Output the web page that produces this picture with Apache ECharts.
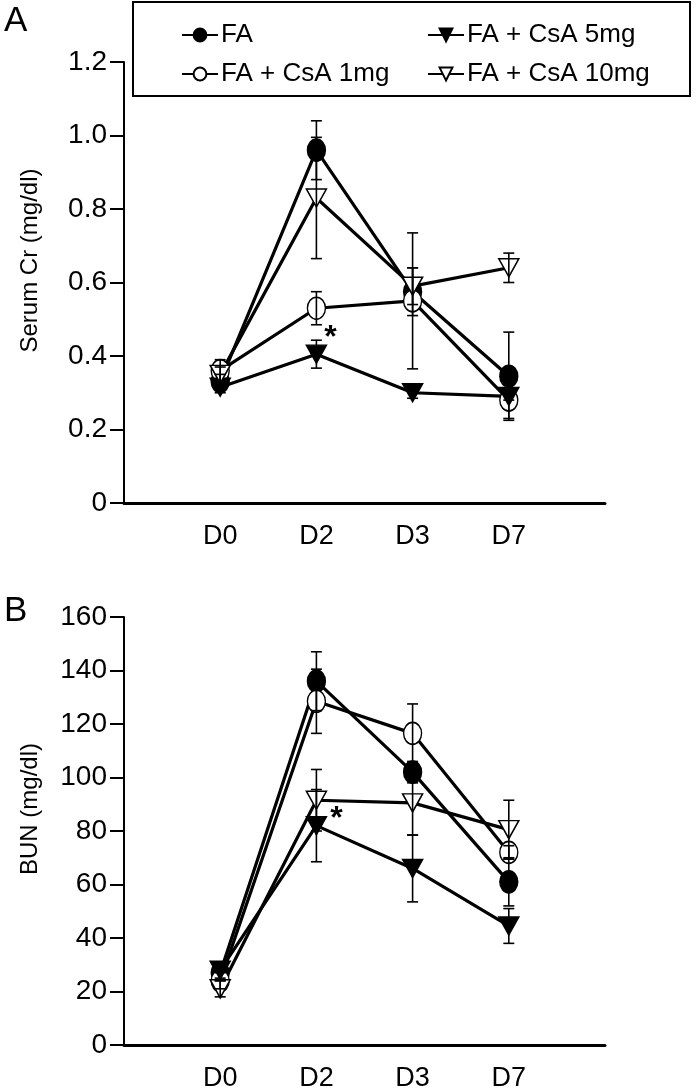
<!DOCTYPE html>
<html>
<head>
<meta charset="utf-8">
<script src="https://cdn.jsdelivr.net/npm/echarts@6/dist/echarts.min.js"></script>
<style>
html,body{margin:0;padding:0;background:#fff;}
#c{width:700px;height:1092px;}
</style>
</head>
<body>
<div id="c"></div>
<script>
// ---- data ----
const categories = ['', 'D0', 'D2', 'D3', 'D7', ''];
const seriesNames = ['FA', 'FA + CsA 1mg', 'FA + CsA 5mg', 'FA + CsA 10mg'];

// Panel A: Serum Cr (mg/dl)
const crFA = [0.33, 0.96, 0.575, 0.345];
const crFAErr = [0.02, 0.08, 0.065, 0.12];
const cr1 = [0.36, 0.53, 0.55, 0.28];
const cr1Err = [0.03, 0.045, 0.185, 0.05];
const cr5 = [0.315, 0.405, 0.30, 0.29];
const cr5Err = [0.015, 0.038, 0.015, 0.01];
const cr10 = [0.35, 0.83, 0.59, 0.64];
const cr10Err = [0.02, 0.165, 0.05, 0.04];
const crTickLabels = ['0', '0.2', '0.4', '0.6', '0.8', '1.0', '1.2'];

// Panel B: BUN (mg/dl)
const bunFA = [27, 136, 102, 61];
const bunFAErr = [3, 11, 4, 9];
const bun1 = [24, 128.5, 116.5, 72];
const bun1Err = [3, 12, 11, 2.5];
const bun5 = [28, 82, 66, 44.5];
const bun5Err = [3, 13.5, 12.5, 6.5];
const bun10 = [21, 91.5, 90.5, 80.5];
const bun10Err = [3, 11.5, 12, 11];
const bunTickLabels = ['0', '20', '40', '60', '80', '100', '120', '140', '160'];

// ---- build ----
const FONT = 'Liberation Sans, Arial, sans-serif';
const chart = echarts.init(document.getElementById('c'), null, {renderer: 'canvas'});

const styles = [
  {symbol: 'circle', size: [18, 22], rotate: 0, fill: '#000'},
  {symbol: 'circle', size: [18, 22], rotate: 0, fill: '#fff'},
  {symbol: 'triangle', size: [20, 18], rotate: 180, fill: '#000'},
  {symbol: 'triangle', size: [20, 18], rotate: 180, fill: '#fff'}
];

function pts(vals) { return vals.map((v, i) => [i + 1, v]); }
function errPts(vals, errs) { return vals.map((v, i) => [i + 1, v - errs[i], v + errs[i]]); }

function lineSeries(name, idx, vals, axis, star) {
  const st = styles[idx];
  const s = {
    name: name, type: 'line', xAxisIndex: axis, yAxisIndex: axis,
    data: pts(vals), symbol: st.symbol, symbolSize: st.size, symbolRotate: st.rotate,
    showAllSymbol: true, z: 3,
    lineStyle: {color: '#000', width: 3.2},
    itemStyle: {color: st.fill, borderColor: '#000', borderWidth: 1.5, opacity: 1},
    emphasis: {disabled: true}, animation: false
  };
  if (star) {
    s.markPoint = {
      symbol: 'circle', symbolSize: 1, itemStyle: {color: 'rgba(0,0,0,0)'},
      data: [{coord: [2, vals[1]], value: '*'}],
      label: {show: true, formatter: '*', color: '#000', fontSize: 32, fontWeight: 'bold', fontFamily: FONT, offset: star}
    };
  }
  return s;
}

function errSeries(vals, errs, axis) {
  return {
    type: 'custom', xAxisIndex: axis, yAxisIndex: axis, z: 4, animation: false,
    data: errPts(vals, errs),
    renderItem: function (params, api) {
      const x = api.value(0);
      const lo = api.coord([x, api.value(1)]);
      const hi = api.coord([x, api.value(2)]);
      const cw = 5.5;
      const ls = {stroke: '#000', lineWidth: 1.6};
      return {type: 'group', children: [
        {type: 'line', shape: {x1: lo[0], y1: lo[1], x2: hi[0], y2: hi[1]}, style: ls},
        {type: 'line', shape: {x1: lo[0] - cw, y1: lo[1], x2: lo[0] + cw, y2: lo[1]}, style: ls},
        {type: 'line', shape: {x1: hi[0] - cw, y1: hi[1], x2: hi[0] + cw, y2: hi[1]}, style: ls}
      ]};
    }
  };
}

function xAxis(gi) {
  return {
    type: 'category', gridIndex: gi, data: categories, boundaryGap: false,
    axisLine: {lineStyle: {color: '#000', width: 3}},
    axisTick: {show: false},
    axisLabel: {interval: 0, color: '#000', fontSize: 27, fontFamily: FONT, margin: 20},
    splitLine: {show: false}
  };
}
function yAxis(gi, max, interval, labels, name, nameGap) {
  return {
    type: 'value', gridIndex: gi, min: 0, max: max, interval: interval,
    name: name, nameLocation: 'middle', nameGap: nameGap, nameRotate: 90,
    nameTextStyle: {color: '#000', fontSize: 24, fontFamily: FONT, padding: [0, 0, 0, 44]},
    axisLine: {show: true, lineStyle: {color: '#000', width: 2}},
    axisTick: {show: true, inside: false, length: 14, lineStyle: {color: '#000', width: 2}},
    axisLabel: {color: '#000', fontSize: 28, fontFamily: FONT, margin: 17,
      formatter: v => labels[Math.round(v / interval)]},
    splitLine: {show: false}
  };
}

const legendPos = [
  {name: seriesNames[0], left: 181, top: 22},
  {name: seriesNames[2], left: 427, top: 22},
  {name: seriesNames[1], left: 181, top: 61},
  {name: seriesNames[3], left: 427, top: 61}
];

const option = {
  backgroundColor: '#fff',
  animation: false,
  grid: [
    {left: 124, top: 62, width: 481, height: 441},
    {left: 124, top: 617, width: 481, height: 438}
  ],
  xAxis: [xAxis(0), xAxis(1)],
  yAxis: [
    yAxis(0, 1.2, 0.2, crTickLabels, 'Serum Cr (mg/dl)', 82),
    yAxis(1, 160, 20, bunTickLabels, 'BUN (mg/dl)', 82)
  ],
  legend: legendPos.map(l => ({
    data: [l.name], left: l.left, top: l.top, orient: 'horizontal',
    itemWidth: 36, itemHeight: 16, itemGap: 0, padding: 0, selectedMode: false,
    textStyle: {color: '#000', fontSize: 26, fontFamily: FONT, padding: [0, 0, 0, -2]}
  })),
  graphic: [
    {type: 'rect', shape: {x: 133, y: 2, width: 557, height: 94}, style: {fill: 'none', stroke: '#000', lineWidth: 2}},
    {type: 'text', left: 4, top: 4, style: {text: 'A', fontSize: 35, fontFamily: FONT, fill: '#000'}},
    {type: 'text', left: 4, top: 594, style: {text: 'B', fontSize: 35, fontFamily: FONT, fill: '#000'}}
  ],
  series: [
    errSeries(crFA, crFAErr, 0), errSeries(cr1, cr1Err, 0), errSeries(cr5, cr5Err, 0), errSeries(cr10, cr10Err, 0),
    lineSeries(seriesNames[0], 0, crFA, 0),
    lineSeries(seriesNames[1], 1, cr1, 0),
    lineSeries(seriesNames[2], 2, cr5, 0, [14, -16]),
    lineSeries(seriesNames[3], 3, cr10, 0),
    errSeries(bunFA, bunFAErr, 1), errSeries(bun1, bun1Err, 1), errSeries(bun5, bun5Err, 1), errSeries(bun10, bun10Err, 1),
    lineSeries(seriesNames[0], 0, bunFA, 1),
    lineSeries(seriesNames[1], 1, bun1, 1),
    lineSeries(seriesNames[2], 2, bun5, 1, [20, -6]),
    lineSeries(seriesNames[3], 3, bun10, 1)
  ]
};
chart.setOption(option);
</script>
</body>
</html>
